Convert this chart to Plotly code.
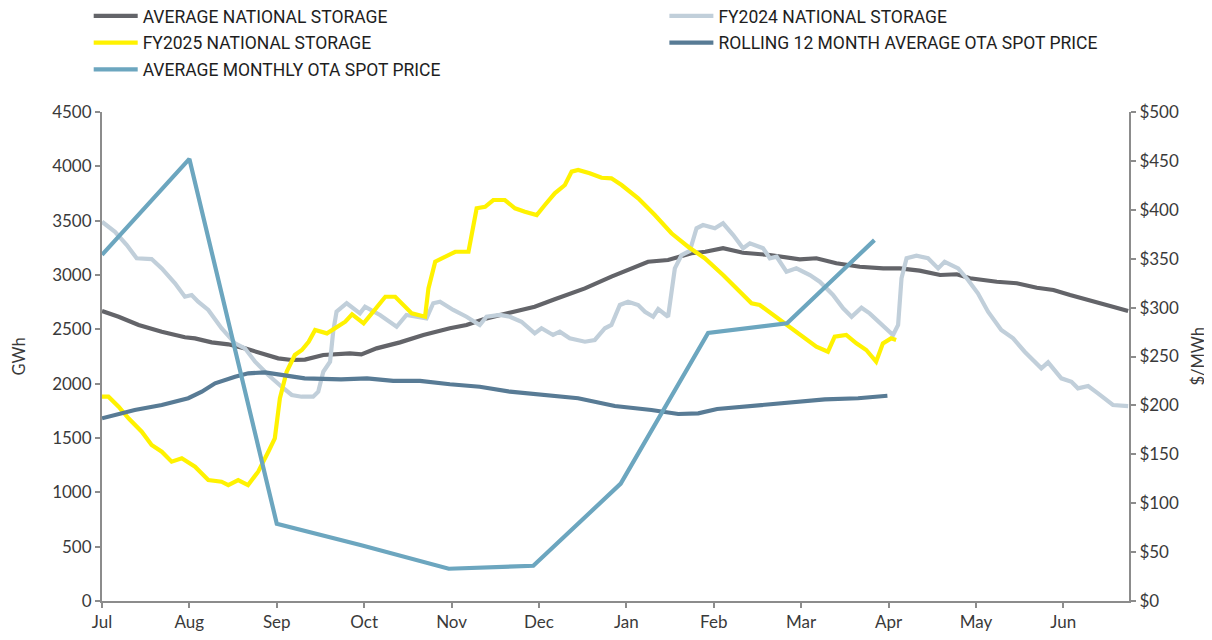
import plotly.graph_objects as go

# x values are days since 1 July
month_labels = ["Jul", "Aug", "Sep", "Oct", "Nov", "Dec", "Jan", "Feb", "Mar", "Apr", "May", "Jun"]

avg_nat_days = [0, 5.9, 13, 21.2, 29.4, 33, 38.9, 44.8, 50.7, 56.6, 62.5, 67.3, 72, 78.5, 87.9, 92,
                97.4, 105.7, 114, 123.4, 129.3, 136.4, 144.7, 153.5, 160.6, 171.3, 180.7, 187.8,
                193.7, 200.8, 209.1, 214, 220.3, 227.4, 236.9, 247.5, 253.4, 260.5, 268.8, 277.1,
                283, 290, 297.3, 303.2, 307.9, 317.4, 324.5, 331.6, 337.5, 343.4, 350.5, 357.6, 364]
avg_nat_gwh = [2669, 2616, 2540, 2478, 2427, 2417, 2380, 2362, 2325, 2279, 2233, 2218, 2222, 2264, 2279, 2270,
               2325, 2380, 2448, 2510, 2540, 2601, 2657, 2708, 2776, 2877, 2985, 3061,
               3122, 3138, 3200, 3214, 3246, 3205, 3184, 3144, 3154, 3108, 3076, 3061,
               3061, 3040, 3000, 3007, 2970, 2938, 2924, 2883, 2862, 2816, 2770, 2715, 2669]

fy24_days = [0, 4.6, 8.8, 12.3, 17.6, 21.2, 25.9, 29.4, 31.8, 34.1, 37.7, 42.4, 47.2, 50.7, 54.3, 59,
             63.7, 67.3, 70.8, 74.9, 76.7, 78.5, 80.9, 82, 83.2, 86.8, 91.5, 93.3, 98.6, 104.5, 108,
             115.1, 117.5, 119.9, 124.6, 129.3, 134, 136.4, 141.1, 144.7, 148.8, 153.5, 155.9, 160,
             162.4, 165.9, 171.3, 174.8, 178.4, 180.7, 183.7, 186.6, 190.2, 192.6, 195.5, 197.3,
             200.8, 203.2, 205.6, 208.5, 210.9, 213.2, 217.4, 220.3, 223.9, 227.4, 229.8, 234.5,
             236.9, 239.3, 242.8, 246.3, 251.1, 254.6, 259.3, 262.9, 265.9, 269.4, 272.3, 275.9,
             280.6, 282.4, 283.6, 285.4, 288.9, 293, 296.6, 298.9, 303.7, 307.2, 310.7, 314.3, 319,
             323.2, 327.3, 333.2, 335.6, 340.3, 343.9, 346.2, 349.8, 353.3, 358.6, 364]
fy24_gwh = [3490, 3398, 3276, 3154, 3147, 3061, 2924, 2800, 2816, 2754, 2678, 2510, 2371, 2325, 2202, 2080,
            1972, 1896, 1880, 1880, 1926, 2110, 2202, 2478, 2662, 2740, 2647, 2708, 2632, 2524, 2632,
            2601, 2740, 2754, 2678, 2616, 2540, 2616, 2632, 2616, 2570, 2463, 2510, 2448,
            2478, 2417, 2386, 2402, 2510, 2540, 2724, 2754, 2724, 2662, 2616, 2687,
            2616, 3061, 3184, 3221, 3430, 3460, 3430, 3476, 3368, 3246, 3292, 3246,
            3154, 3168, 3030, 3061, 3000, 2938, 2816, 2693, 2616, 2699, 2647, 2555,
            2448, 2540, 2970, 3154, 3178, 3154, 3061, 3122, 3061, 2954, 2831, 2662, 2494,
            2417, 2294, 2141, 2196, 2049, 2018, 1957, 1978, 1911, 1804, 1794]

fy25_days = [0, 2.3, 5.9, 9.4, 14.1, 17.6, 21.2, 24.7, 28.3, 33, 37.7, 42.4, 44.8, 48.3, 51.8, 55.4,
             59, 61.3, 63.1, 65.5, 68.4, 70.9, 73.3, 75.6, 79.8, 82.7, 86.3, 88.7, 92.8, 95.7, 100.5,
             104, 109.9, 114.6, 115.8, 118.2, 121.7, 125.3, 130, 131.2, 132.9, 135.9, 138.8, 142.9,
             146.5, 150, 154.2, 157.1, 160.6, 164.2, 166.6, 168.9, 173, 177.2, 180.7, 184.3, 190.2,
             196.1, 202, 207.9, 213.8, 220.3, 225, 230.4, 233.3, 238, 243.3, 248.7, 253.4, 257.5,
             259.9, 264, 267.6, 271.1, 274.6, 277, 279.9, 281.7]
fy25_gwh = [1880, 1880, 1788, 1681, 1558, 1436, 1374, 1282, 1313, 1236, 1113, 1098, 1067, 1113, 1067, 1190,
            1374, 1497, 1865, 2110, 2264, 2310, 2386, 2494, 2463, 2510, 2570, 2638, 2555, 2647, 2800,
            2800, 2647, 2616, 2877, 3122, 3168, 3214, 3214, 3368, 3614, 3628, 3690, 3690,
            3614, 3583, 3552, 3644, 3752, 3828, 3951, 3966, 3936, 3895, 3890, 3828, 3706,
            3552, 3384, 3260, 3154, 3000, 2877, 2740, 2724, 2632, 2540, 2432, 2340, 2294,
            2432, 2448, 2371, 2310, 2202, 2371, 2417, 2402]

rolling_days = [0, 11.6, 21.2, 30.6, 35.4, 40.1, 47.2, 51.9, 57.8, 64.9, 71.9, 84.8, 94, 103.3, 112.8,
                123.4, 134, 144.7, 154.7, 168.9, 181.9, 194.9, 204.4, 211.5, 218.2, 230.4, 244.6,
                256.4, 268.2, 278.6]
rolling_price = [186.8, 195.3, 200.4, 207.3, 214, 222.6, 229.4, 232.8, 233.8, 231.1, 227.7, 226.7, 227.7,
                 225, 225, 221.6, 219.1, 214, 211.3, 207.3, 199.4, 195.3, 191.2, 191.9, 196.3, 199.4,
                 202.8, 206.2, 207.3, 209.9]

monthly_days = [0, 31, 62, 92, 123, 153, 184, 215, 243, 274]
monthly_price = [354, 452, 79, 57, 33, 36, 120, 274, 284, 369]

C_AVG = "#636469"
C_FY24 = "#C1CFDA"
C_FY25 = "#FFF200"
C_ROLL = "#587B95"
C_MON = "#6CA6BF"
AXIS = "#8C8C8C"
TXT = "#3A3A3A"

fig = go.Figure()
lw = 4.2
fig.add_trace(go.Scatter(x=avg_nat_days, y=avg_nat_gwh, mode="lines", name="AVERAGE NATIONAL STORAGE",
                         line=dict(color=C_AVG, width=lw), legend="legend", legendgroup="a"))
fig.add_trace(go.Scatter(x=fy24_days, y=fy24_gwh, mode="lines", name="FY2024 NATIONAL STORAGE",
                         line=dict(color=C_FY24, width=lw), legend="legend2", legendgroup="b"))
fig.add_trace(go.Scatter(x=fy25_days, y=fy25_gwh, mode="lines", name="FY2025 NATIONAL STORAGE",
                         line=dict(color=C_FY25, width=lw), legend="legend", legendgroup="c"))
fig.add_trace(go.Scatter(x=rolling_days, y=rolling_price, mode="lines", yaxis="y2",
                         name="ROLLING 12 MONTH AVERAGE OTA SPOT PRICE",
                         line=dict(color=C_ROLL, width=lw), legend="legend2", legendgroup="d"))
fig.add_trace(go.Scatter(x=monthly_days, y=monthly_price, mode="lines", yaxis="y2",
                         name="AVERAGE MONTHLY OTA SPOT PRICE",
                         line=dict(color=C_MON, width=lw), legend="legend", legendgroup="e"))

tickfont = dict(family="Lato", size=17, color=TXT)
legfont = dict(family="Roboto", size=17.5, color="#1E1E1E")
titlefont = dict(family="Lato", size=16.5, color=TXT)

fig.update_layout(
    width=1204, height=632,
    margin=dict(l=94, r=83, t=104, b=39, autoexpand=False),
    plot_bgcolor="white", paper_bgcolor="white",
    xaxis=dict(range=[0, 364.3], tickvals=[31 * i for i in range(len(month_labels))], ticktext=month_labels,
               showgrid=False, zeroline=False, showline=True, linecolor=AXIS, linewidth=2,
               ticks="outside", ticklen=5, tickwidth=2, tickcolor=AXIS, tickfont=tickfont),
    yaxis=dict(range=[0, 4500], dtick=500, showgrid=False, zeroline=False, showline=True,
               linecolor=AXIS, linewidth=2, ticks="outside", ticklen=5, tickwidth=2, tickcolor=AXIS,
               tickfont=tickfont),
    yaxis2=dict(range=[0, 500], dtick=50, overlaying="y", side="right", tickprefix="$",
                showgrid=False, zeroline=False, showline=True, linecolor=AXIS, linewidth=2,
                ticks="outside", ticklen=5, tickwidth=2, tickcolor=AXIS, tickfont=tickfont),
    legend=dict(xref="paper", yref="paper", x=-0.01295, y=1.2331, xanchor="left", yanchor="top",
                font=legfont, itemwidth=44, tracegroupgap=1, bgcolor="rgba(0,0,0,0)"),
    legend2=dict(xref="paper", yref="paper", x=0.5476, y=1.2331, xanchor="left", yanchor="top",
                 font=legfont, itemwidth=44, tracegroupgap=1, bgcolor="rgba(0,0,0,0)"),
    showlegend=True,
    annotations=[
        dict(text="GWh", xref="paper", yref="paper", x=0, y=0.5, xshift=-84, textangle=-90,
             showarrow=False, xanchor="center", yanchor="middle", font=titlefont),
        dict(text="$/MWh", xref="paper", yref="paper", x=1, y=0.5, xshift=68, textangle=-90,
             showarrow=False, xanchor="center", yanchor="middle", font=titlefont),
    ],
)

fig.write_html("out.html")
